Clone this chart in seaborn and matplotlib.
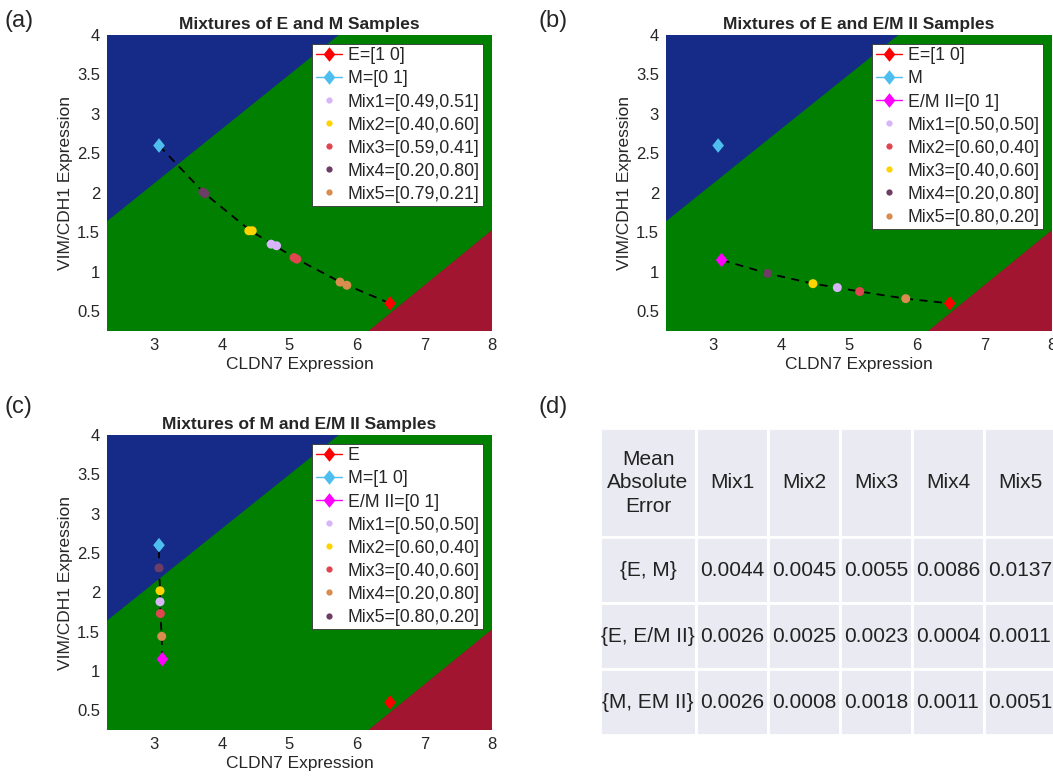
import numpy as np
import pandas as pd
import matplotlib.pyplot as plt
from matplotlib.lines import Line2D
import seaborn as sns

sns.set_style("white")
plt.rcParams['font.family'] = ['Liberation Sans', 'DejaVu Sans']

# axis ranges and ticks
x_lim = [2.3, 8.0]
y_lim = [0.25, 4.0]
x_ticks = [3, 4, 5, 6, 7, 8]
y_ticks = [0.5, 1, 1.5, 2, 2.5, 3, 3.5, 4]
y_tick_labels = ["0.5", "1", "1.5", "2", "2.5", "3", "3.5", "4"]

# classifier regions (corners of the M and E regions)
m_region_x = [2.3, 5.73, 2.3]
m_region_y = [1.64, 4.0, 4.0]
e_region_x = [6.17, 8.0, 8.0]
e_region_y = [0.25, 1.53, 0.25]

# pure samples (CLDN7, VIM/CDH1)
e_point = [6.49, 0.60]
m_point = [3.07, 2.60]
em2_point = [3.12, 1.15]

# mixtures, panel (a) - two replicates each
mix_names_a = ["Mix1", "Mix1", "Mix2", "Mix2", "Mix3", "Mix3", "Mix4", "Mix4", "Mix5", "Mix5"]
mix_x_a = [4.73, 4.81, 4.40, 4.45, 5.07, 5.11, 3.72, 3.75, 5.75, 5.85]
mix_y_a = [1.35, 1.33, 1.52, 1.52, 1.18, 1.16, 2.01, 1.99, 0.87, 0.83]
labels_a = ["Mix1=[0.49,0.51]", "Mix2=[0.40,0.60]", "Mix3=[0.59,0.41]",
            "Mix4=[0.20,0.80]", "Mix5=[0.79,0.21]"]

# panel (b)
mix_names_b = ["Mix1", "Mix2", "Mix3", "Mix4", "Mix5"]
mix_x_b = [4.83, 5.16, 4.47, 3.80, 5.84]
mix_y_b = [0.80, 0.75, 0.85, 0.98, 0.66]
labels_b = ["Mix1=[0.50,0.50]", "Mix2=[0.60,0.40]", "Mix3=[0.40,0.60]",
            "Mix4=[0.20,0.80]", "Mix5=[0.80,0.20]"]

# panel (c)
mix_names_c = ["Mix1", "Mix2", "Mix3", "Mix4", "Mix5"]
mix_x_c = [3.085, 3.085, 3.09, 3.11, 3.07]
mix_y_c = [1.88, 2.02, 1.73, 1.44, 2.31]
labels_c = ["Mix1=[0.50,0.50]", "Mix2=[0.60,0.40]", "Mix3=[0.40,0.60]",
            "Mix4=[0.20,0.80]", "Mix5=[0.80,0.20]"]

# table (d)
table_cols = ["Mix1", "Mix2", "Mix3", "Mix4", "Mix5"]
table_rows = ["{E, M}", "{E, E/M II}", "{M, EM II}"]
mae_values = [["0.0044", "0.0045", "0.0055", "0.0086", "0.0137"],
              ["0.0026", "0.0025", "0.0023", "0.0004", "0.0011"],
              ["0.0026", "0.0008", "0.0018", "0.0011", "0.0051"]]

# colours
c_blue = "#162b87"
c_green = "#007f00"
c_red = "#a11530"
c_e = "#ff0000"
c_m = "#4dbeee"
c_em2 = "#ff00ff"
lav, yel, red, pur, ora = "#d8b4f8", "#ffd300", "#e04650", "#6d3d66", "#d98c4e"
pal_a = {"Mix1": lav, "Mix2": yel, "Mix3": red, "Mix4": pur, "Mix5": ora}
pal_b = {"Mix1": lav, "Mix2": red, "Mix3": yel, "Mix4": pur, "Mix5": ora}
pal_c = {"Mix1": lav, "Mix2": yel, "Mix3": red, "Mix4": ora, "Mix5": pur}

diamond = [(0, 1), (0.8, 0), (0, -1), (-0.8, 0), (0, 1)]

W, H = 1053, 778
fig = plt.figure(figsize=(W / 100, H / 100), dpi=100)


def px_axes(l, t, r, b):
    return fig.add_axes([l / W, 1 - b / H, (r - l) / W, (b - t) / H])


def draw_panel(ax, title, mix, pal, ends, sort_col, legend_items, mix_labels, show_em2):
    ax.set_facecolor(c_green)
    ax.fill(m_region_x, m_region_y, color=c_blue, lw=0, zorder=0)
    ax.fill(e_region_x, e_region_y, color=c_red, lw=0, zorder=0)

    # dashed mixing path through the mixture means
    means = mix.groupby("name")[["x", "y"]].mean().reset_index()
    path = pd.concat([pd.DataFrame(ends, columns=["x", "y"]), means[["x", "y"]]])
    path = path.sort_values(sort_col)
    sns.lineplot(data=path, x="x", y="y", sort=False, estimator=None, ax=ax,
                 color="black", lw=1.3, dashes=False, linestyle=(0, (4.5, 3.5)), zorder=2)

    sns.scatterplot(data=mix, x="x", y="y", hue="name", palette=pal, s=42,
                    linewidth=0, legend=False, ax=ax, zorder=3)

    pure = pd.DataFrame({"x": [e_point[0], m_point[0]], "y": [e_point[1], m_point[1]],
                         "k": ["E", "M"]})
    pcol = {"E": c_e, "M": c_m, "EM2": c_em2}
    if show_em2:
        pure.loc[2] = [em2_point[0], em2_point[1], "EM2"]
    sns.scatterplot(data=pure, x="x", y="y", hue="k", palette=pcol, marker=diamond,
                    s=110, linewidth=0, legend=False, ax=ax, zorder=4)

    ax.set_xlim(x_lim)
    ax.set_ylim(y_lim)
    ax.set_xticks(x_ticks)
    ax.set_yticks(y_ticks)
    ax.set_yticklabels(y_tick_labels)
    ax.tick_params(length=0, labelsize=12, labelcolor="#262626", pad=5)
    for s in ax.spines.values():
        s.set_visible(False)
    ax.set_xlabel("CLDN7 Expression", fontsize=12.5, color="#262626", labelpad=3)
    ax.set_ylabel("VIM/CDH1 Expression", fontsize=12.5, color="#262626", labelpad=3)
    ax.set_title(title, fontsize=12.5, fontweight="bold", pad=4)

    handles = []
    for lab, col in legend_items:
        handles.append(Line2D([0], [0], color=col, lw=1, marker=diamond, markersize=10.5,
                              markeredgewidth=0, label=lab))
    for name, lab in zip(["Mix1", "Mix2", "Mix3", "Mix4", "Mix5"], mix_labels):
        handles.append(Line2D([0], [0], color=pal[name], lw=0, marker="o", markersize=4.5,
                              markeredgewidth=0, label=lab))
    leg = ax.legend(handles=handles, loc="upper right", fontsize=12.8, frameon=True,
                    fancybox=False, framealpha=1, edgecolor="#333333",
                    borderpad=0.2, labelspacing=0.34, handlelength=1.5,
                    handletextpad=0.3, borderaxespad=0.5)
    leg.get_frame().set_linewidth(0.6)


df_a = pd.DataFrame({"name": mix_names_a, "x": mix_x_a, "y": mix_y_a})
df_b = pd.DataFrame({"name": mix_names_b, "x": mix_x_b, "y": mix_y_b})
df_c = pd.DataFrame({"name": mix_names_c, "x": mix_x_c, "y": mix_y_c})

ax_a = px_axes(107, 35, 492, 331)
draw_panel(ax_a, "Mixtures of E and M Samples", df_a, pal_a, [m_point, e_point], "x",
           [("E=[1 0]", c_e), ("M=[0 1]", c_m)], labels_a, False)

ax_b = px_axes(666, 35, 1052, 331)
draw_panel(ax_b, "Mixtures of E and E/M II Samples", df_b, pal_b, [em2_point, e_point], "x",
           [("E=[1 0]", c_e), ("M", c_m), ("E/M II=[0 1]", c_em2)], labels_b, True)

ax_c = px_axes(107, 435, 492, 730)
draw_panel(ax_c, "Mixtures of M and E/M II Samples", df_c, pal_c, [m_point, em2_point], "y",
           [("E", c_e), ("M=[1 0]", c_m), ("E/M II=[0 1]", c_em2)], labels_c, True)

# table panel
ax_d = px_axes(600, 428, 1056, 735)
ax_d.axis("off")
cell_bg = sns.axes_style("darkgrid")["axes.facecolor"]
cell_text = [["Mean\nAbsolute\nError"] + table_cols]
for r, vals in zip(table_rows, mae_values):
    cell_text.append([r] + vals)
col_w = np.array([96, 72, 72, 72, 72, 72]) / 456
row_h = np.array([109, 66, 66, 66]) / 307
tab = ax_d.table(cellText=cell_text, colWidths=list(col_w), loc="upper left",
                 cellLoc="center", bbox=[0, 0, 1, 1])
tab.auto_set_font_size(False)
for (i, j), cell in tab.get_celld().items():
    cell.set_facecolor(cell_bg)
    cell.set_edgecolor("white")
    cell.set_linewidth(2)
    cell.set_height(row_h[i])
    cell.get_text().set_fontsize(15)
    cell.get_text().set_color("#222222")
    cell.get_text().set_linespacing(1.3)
    cell.PAD = 0.01

# panel letters
for lab, x, y in [("(a)", 5, 10), ("(b)", 538, 10), ("(c)", 5, 396), ("(d)", 538, 396)]:
    fig.text(x / W, 1 - y / H, lab, fontsize=17, va="top", ha="left")

fig.savefig("out.png", dpi=100)
